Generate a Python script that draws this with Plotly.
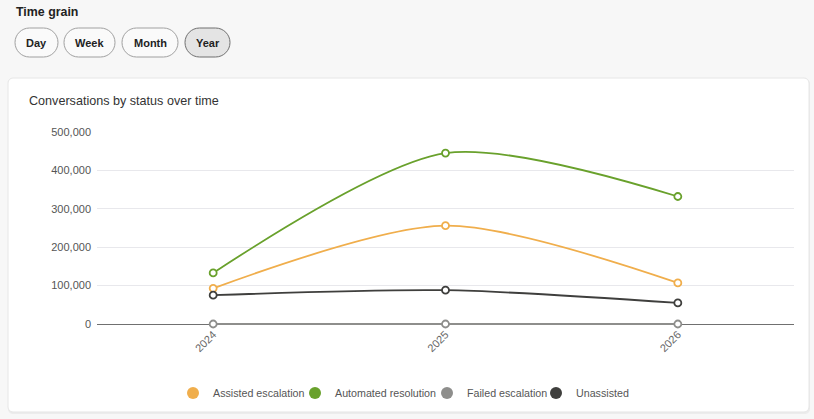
import plotly.graph_objects as go

# Data
years = ["2024", "2025", "2026"]
assisted_escalation = [93000, 256000, 107000]
automated_resolution = [133000, 445000, 332000]
failed_escalation = [0, 0, 0]
unassisted = [75000, 88000, 55000]

series_names = ["Assisted escalation", "Automated resolution", "Failed escalation", "Unassisted"]
series_values = [assisted_escalation, automated_resolution, failed_escalation, unassisted]
series_colors = ["#f0ae4c", "#69a12c", "#8e8e8c", "#3f3f3d"]

grain_labels = ["Day", "Week", "Month", "Year"]
y_ticks = [0, 100000, 200000, 300000, 400000, 500000]

W, H = 814, 419
FONT = "Liberation Sans, Arial, Helvetica, sans-serif"
Y_PAD = 3000  # small room below zero so the zero-valued line isn't clipped


def px(x):
    return x / W


def py(y):
    return 1 - y / H


def rounded_rect(x0, y0, x1, y1, r):
    # svg path in paper units for a rounded rectangle given in pixels
    k = 0.5523 * r
    pts = [
        ("M", [(x0 + r, y0)]),
        ("L", [(x1 - r, y0)]),
        ("C", [(x1 - r + k, y0), (x1, y0 + r - k), (x1, y0 + r)]),
        ("L", [(x1, y1 - r)]),
        ("C", [(x1, y1 - r + k), (x1 - r + k, y1), (x1 - r, y1)]),
        ("L", [(x0 + r, y1)]),
        ("C", [(x0 + r - k, y1), (x0, y1 - r + k), (x0, y1 - r)]),
        ("L", [(x0, y0 + r)]),
        ("C", [(x0, y0 + r - k), (x0 + r - k, y0), (x0 + r, y0)]),
    ]
    out = []
    for cmd, coords in pts:
        out.append(cmd + " " + " ".join("%.5f,%.5f" % (px(a), py(b)) for a, b in coords))
    return " ".join(out) + " Z"


fig = go.Figure()

# Real series: spline lines with open markers, kept out of the legend
for name, vals, color in zip(series_names, series_values, series_colors):
    fig.add_trace(go.Scatter(
        x=years, y=vals, name=name, mode="lines+markers",
        line=dict(color=color, width=1.8, shape="spline", smoothing=0.8),
        marker=dict(symbol="circle", size=7, color="white",
                    line=dict(color=color, width=1.8)),
        cliponaxis=False, showlegend=False,
    ))

# Legend entries as solid dots, one small legend each so they sit like the original
legend_ids = ["legend", "legend2", "legend3", "legend4"]
legend_dot_x = [193, 315, 447, 556]
for name, color, lid in zip(series_names, series_colors, legend_ids):
    fig.add_trace(go.Scatter(
        x=[None], y=[None], name=name, mode="markers",
        marker=dict(symbol="circle", size=12, color=color),
        showlegend=True, legend=lid,
    ))

shapes = []
annotations = []

# white card behind the chart (soft shadow + card)
shapes.append(dict(type="path", xref="paper", yref="paper", layer="below",
                   path=rounded_rect(8, 79, 810, 414, 5),
                   line=dict(width=0), fillcolor="#ececec"))
shapes.append(dict(type="path", xref="paper", yref="paper", layer="below",
                   path=rounded_rect(8, 78, 809, 412, 5),
                   line=dict(color="#e6e6e6", width=1), fillcolor="white"))

# time grain buttons
button_edges = [(15, 58), (64, 115), (122, 178), (185, 230)]
for label, (x0, x1) in zip(grain_labels, button_edges):
    selected = label == "Year"
    shapes.append(dict(type="path", xref="paper", yref="paper",
                       path=rounded_rect(x0, 28, x1, 57, 14.5),
                       line=dict(color="#6f6f6f" if selected else "#a0a0a0", width=1),
                       fillcolor="#e4e4e4" if selected else "#fafafa"))
    annotations.append(dict(xref="paper", yref="paper", x=px((x0 + x1) / 2), y=py(42.5),
                            text="<b>%s</b>" % label, showarrow=False,
                            xanchor="center", yanchor="middle",
                            font=dict(family=FONT, size=11, color="#222")))

annotations.append(dict(xref="paper", yref="paper", x=px(14), y=py(12),
                        text="<b>Time grain</b>", showarrow=False,
                        xanchor="left", yanchor="middle",
                        font=dict(family=FONT, size=12.4, color="#222")))
annotations.append(dict(xref="paper", yref="paper", x=px(27), y=py(101),
                        text="Conversations by status over time", showarrow=False,
                        xanchor="left", yanchor="middle",
                        font=dict(family=FONT, size=12.6, color="#333")))

legend_opts = {}
for lid, dot_x in zip(legend_ids, legend_dot_x):
    legend_opts[lid] = dict(orientation="h", xref="container", yref="container",
                            x=px(dot_x - 20), xanchor="left", y=py(393), yanchor="middle",
                            font=dict(family=FONT, size=10.7, color="#555"),
                            bgcolor="rgba(0,0,0,0)", itemsizing="trace",
                            borderwidth=0)

zero_px = 324 + Y_PAD * (324 - 132) / 500000

fig.update_layout(
    width=W, height=H,
    margin=dict(l=0, r=0, t=0, b=0, autoexpand=False),
    paper_bgcolor="#f7f7f7",
    plot_bgcolor="white",
    font=dict(family=FONT, size=11, color="#555"),
    shapes=shapes,
    annotations=annotations,
    xaxis=dict(domain=[px(97), px(794)], type="category", range=[-0.5, 2.5],
               automargin=False,
               showgrid=False, zeroline=False, showline=False, ticks="",
               tickangle=-45, tickfont=dict(family=FONT, size=11, color="#666")),
    yaxis=dict(domain=[py(zero_px), py(132)], range=[-Y_PAD, 500000], tickvals=y_ticks,
               automargin=False,
               tickformat=",", showgrid=True, gridcolor="#e8e8ec", gridwidth=1,
               zeroline=True, zerolinecolor="#707070", zerolinewidth=1,
               showline=False, ticks="", ticklabelstandoff=5,
               tickfont=dict(family=FONT, size=11, color="#555")),
    **legend_opts,
)

fig.write_html("out.html", config={"displayModeBar": False},
               post_script="document.body.style.margin='0';")
